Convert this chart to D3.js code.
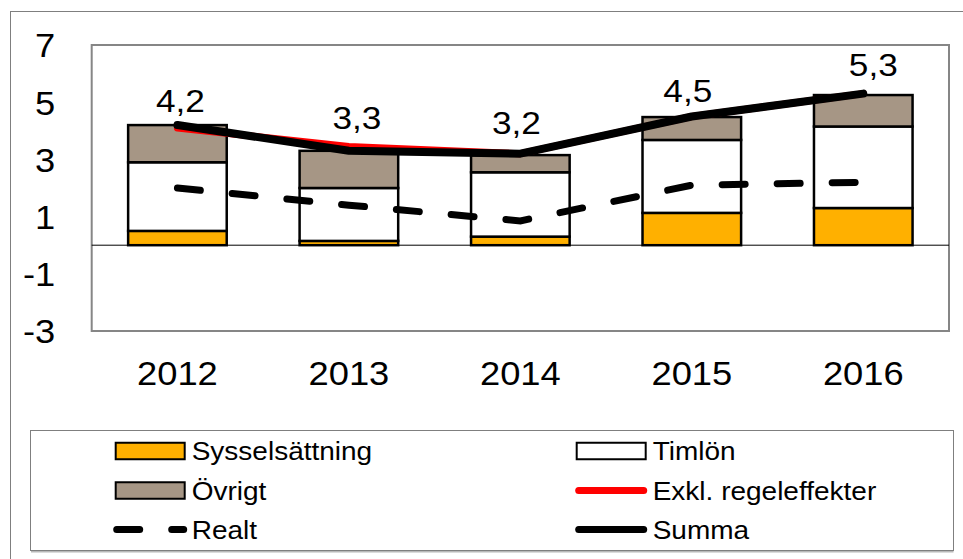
<!DOCTYPE html>
<html>
<head>
<meta charset="utf-8">
<script src="https://cdn.jsdelivr.net/npm/d3@7"></script>
<style>
  html, body { margin: 0; padding: 0; background: #fff; }
  svg { display: block; }
  text { font-family: "Liberation Sans", Arial, sans-serif; fill: #000; }
</style>
</head>
<body>
<svg id="chart" width="963" height="559"></svg>
<script>
// ---- data ----
const categories = ["2012", "2013", "2014", "2015", "2016"];
const sysselsattning = [0.5, 0.15, 0.3, 1.13, 1.3];
const timlon = [2.4, 1.85, 2.25, 2.55, 2.85];
const ovrigt = [1.3, 1.3, 0.6, 0.8, 1.1];
const exklRegeleffekter = [4.1, 3.45, 3.2, 4.5, 5.3];
const summa = [4.2, 3.3, 3.2, 4.5, 5.3];
const realt = [2.0, 1.4, 0.85, 2.1, 2.2];
const yTicks = [-3, -1, 1, 3, 5, 7];
const legendLabels = ["Sysselsättning", "Timlön", "Övrigt", "Exkl. regeleffekter", "Realt", "Summa"];

// ---- layout / style ----
const W = 963, H = 559;
const plot = { left: 91.7, top: 45, right: 949, bottom: 331 };
const SX = 1.1; // horizontal text stretch of the original
const colSyssel = "#FFB000", colTimlon = "#FFFFFF", colOvrigt = "#A69685";
const labelNudge = [[3, 13.5], [8, 22], [-4, 20], [-4, 14.5], [10, 17.5]];

const svg = d3.select("#chart");

// outer frame (extends beyond canvas on right/bottom)
svg.append("rect").attr("x", 10.5).attr("y", 11.5).attr("width", 1000).attr("height", 1000)
  .attr("fill", "#fff").attr("stroke", "#7f7f7f").attr("stroke-width", 1);

const x = d3.scaleBand().domain(categories).range([plot.left, plot.right])
  .paddingInner(0.425).paddingOuter(0.2125);
const y = d3.scaleLinear().domain([-3, 7]).range([plot.bottom, plot.top]);
const cx = c => x(c) + x.bandwidth() / 2;

// plot area
svg.append("rect").attr("x", plot.left).attr("y", plot.top)
  .attr("width", plot.right - plot.left).attr("height", plot.bottom - plot.top)
  .attr("fill", "#fff").attr("stroke", "#868686").attr("stroke-width", 2);

// stacked bars
const rows = categories.map((c, i) => ({ cat: c, s: sysselsattning[i], t: timlon[i], o: ovrigt[i] }));
const stack = d3.stack().keys(["s", "t", "o"])(rows);
const fills = { s: colSyssel, t: colTimlon, o: colOvrigt };

const gBars = svg.append("g");
stack.forEach(layer => {
  gBars.selectAll(null).data(layer).enter().append("rect")
    .attr("x", d => x(d.data.cat))
    .attr("width", x.bandwidth())
    .attr("y", d => y(d[1]))
    .attr("height", d => y(d[0]) - y(d[1]))
    .attr("fill", fills[layer.key])
    .attr("stroke", "#000").attr("stroke-width", 2.5);
});

// zero line
svg.append("line").attr("x1", plot.left).attr("x2", plot.right)
  .attr("y1", y(0)).attr("y2", y(0)).attr("stroke", "#000").attr("stroke-width", 1);

// lines
const line = d3.line().x((d, i) => cx(categories[i])).y(d => y(d));
svg.append("path").datum(realt).attr("d", line).attr("fill", "none")
  .attr("stroke", "#000").attr("stroke-width", 7).attr("stroke-linecap", "round")
  .attr("stroke-dasharray", "23,32");
svg.append("path").datum(exklRegeleffekter).attr("d", line).attr("fill", "none")
  .attr("stroke", "#FF0000").attr("stroke-width", 7).attr("stroke-linecap", "round")
  .attr("stroke-linejoin", "round");
svg.append("path").datum(summa).attr("d", line).attr("fill", "none")
  .attr("stroke", "#000").attr("stroke-width", 8).attr("stroke-linecap", "round")
  .attr("stroke-linejoin", "round");

// data labels
const fmt = v => v.toFixed(1).replace(".", ",");
svg.append("g").selectAll("text").data(summa).enter().append("text")
  .attr("transform", (d, i) => `translate(${cx(categories[i]) + labelNudge[i][0]},${y(d) - labelNudge[i][1]}) scale(${SX},1)`)
  .attr("text-anchor", "middle").attr("font-size", 32)
  .text(d => fmt(d));

// y axis
const yAxis = svg.append("g").attr("transform", `translate(${plot.left},0)`)
  .call(d3.axisLeft(y).tickValues(yTicks).tickSize(0).tickPadding(0).tickFormat(d => String(d)));
yAxis.select(".domain").remove();
yAxis.selectAll("text")
  .attr("x", -36.5 / SX).attr("dy", "0.36em")
  .attr("transform", `scale(${SX},1)`)
  .attr("font-size", 33).attr("font-family", "Liberation Sans, Arial, sans-serif").attr("fill", "#000");

// x axis
const xAxis = svg.append("g").attr("transform", `translate(0,${plot.bottom})`)
  .call(d3.axisBottom(x).tickSize(0).tickPadding(30.5));
xAxis.select(".domain").remove();
xAxis.selectAll("text")
  .attr("transform", `scale(${SX},1)`)
  .attr("font-size", 33).attr("font-family", "Liberation Sans, Arial, sans-serif").attr("fill", "#000");

// legend
const lg = svg.append("g");
lg.append("line").attr("x1", 31).attr("x2", 953.5).attr("y1", 551.5).attr("y2", 551.5)
  .attr("stroke", "#b8b8b8").attr("stroke-width", 2);
lg.append("rect").attr("x", 30.5).attr("y", 430.5).attr("width", 923).attr("height", 120)
  .attr("fill", "#fff").attr("stroke", "#7f7f7f").attr("stroke-width", 1);

const cols = [115.7, 576.7];
const rowsY = [451, 490.5, 529.5];
const swW = 69, swH = 16.5;
const items = [
  { label: legendLabels[0], type: "rect", fill: colSyssel, col: 0, row: 0 },
  { label: legendLabels[1], type: "rect", fill: colTimlon, col: 1, row: 0 },
  { label: legendLabels[2], type: "rect", fill: colOvrigt, col: 0, row: 1 },
  { label: legendLabels[3], type: "line", stroke: "#FF0000", col: 1, row: 1 },
  { label: legendLabels[4], type: "dash", stroke: "#000", col: 0, row: 2 },
  { label: legendLabels[5], type: "line", stroke: "#000", col: 1, row: 2 }
];
items.forEach(it => {
  const x0 = cols[it.col], yc = rowsY[it.row];
  if (it.type === "rect") {
    lg.append("rect").attr("x", x0).attr("y", yc - swH / 2).attr("width", swW).attr("height", swH)
      .attr("fill", it.fill).attr("stroke", "#000").attr("stroke-width", 2);
  } else if (it.type === "line") {
    lg.append("line").attr("x1", x0 + 2).attr("x2", x0 + swW - 2).attr("y1", yc).attr("y2", yc)
      .attr("stroke", it.stroke).attr("stroke-width", 7).attr("stroke-linecap", "round");
  } else {
    lg.append("line").attr("x1", x0 + 1).attr("x2", x0 + swW - 1).attr("y1", yc).attr("y2", yc)
      .attr("stroke", it.stroke).attr("stroke-width", 7).attr("stroke-linecap", "round")
      .attr("stroke-dasharray", "23,32");
  }
  lg.append("text")
    .attr("transform", `translate(${x0 + swW + 7},${yc + 9}) scale(1.12,1)`)
    .attr("font-size", 25)
    .text(it.label);
});
</script>
</body>
</html>
